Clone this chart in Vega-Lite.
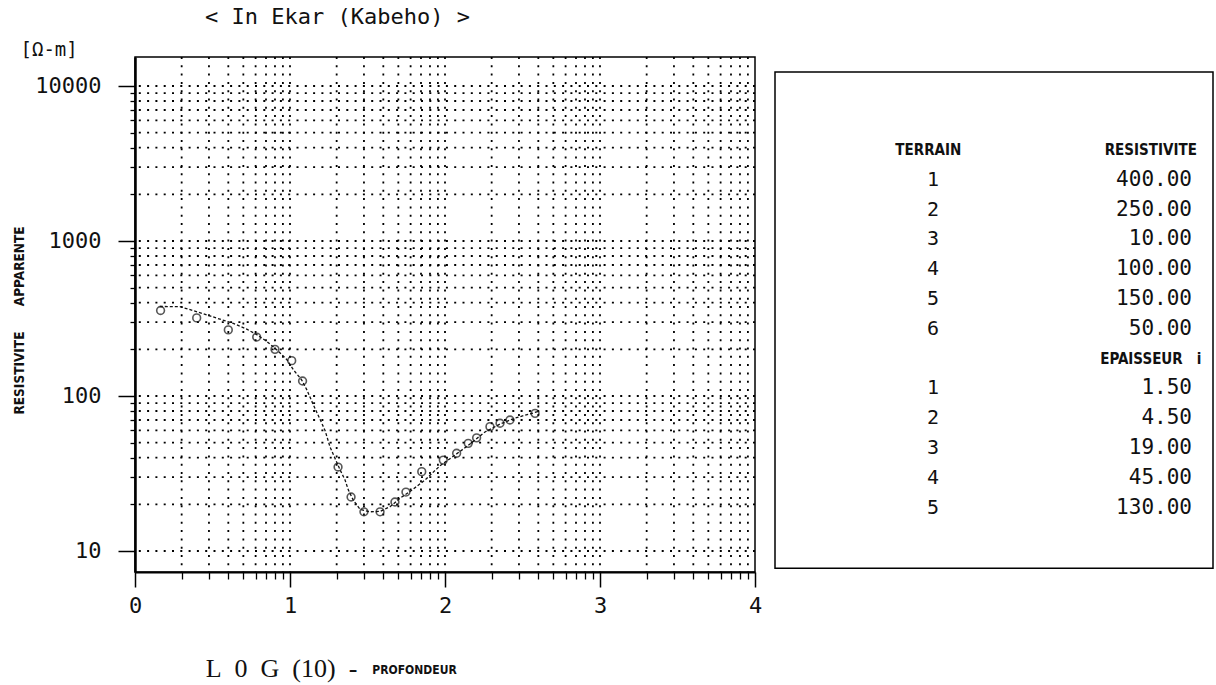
{
  "$schema": "https://vega.github.io/schema/vega-lite/v6.json",
  "autosize": {"type": "none"},
  "padding": {"left": 135, "top": 57, "right": 1081, "bottom": 628},
  "background": "white",
  "title": {"text": "< In Ekar (Kabeho) >", "anchor": "start", "frame": "group", "dx": 70, "font": "DejaVu Sans Mono", "fontSize": 22, "fontWeight": "normal", "color": "#111", "offset": 10},
  "datasets": {
    "vgrid": [{"x":0.30103},{"x":0.47712},{"x":0.60206},{"x":0.69897},{"x":0.77815},{"x":0.8451},{"x":0.90309},{"x":0.95424},{"x":1},
      {"x":1.30103},{"x":1.47712},{"x":1.60206},{"x":1.69897},{"x":1.77815},{"x":1.8451},{"x":1.90309},{"x":1.95424},{"x":2},
      {"x":2.30103},{"x":2.47712},{"x":2.60206},{"x":2.69897},{"x":2.77815},{"x":2.8451},{"x":2.90309},{"x":2.95424},{"x":3},
      {"x":3.30103},{"x":3.47712},{"x":3.60206},{"x":3.69897},{"x":3.77815},{"x":3.8451},{"x":3.90309},{"x":3.95424}],
    "hgrid": [{"y":10},{"y":20},{"y":30},{"y":40},{"y":50},{"y":60},{"y":70},{"y":80},{"y":90},
      {"y":100},{"y":200},{"y":300},{"y":400},{"y":500},{"y":600},{"y":700},{"y":800},{"y":900},
      {"y":1000},{"y":2000},{"y":3000},{"y":4000},{"y":5000},{"y":6000},{"y":7000},{"y":8000},{"y":9000},{"y":10000}],
    "curve": [{"x":0.16,"y":378},{"x":0.29,"y":377},{"x":0.374,"y":356},{"x":0.463,"y":334},{"x":0.548,"y":313},{"x":0.634,"y":294},{"x":0.721,"y":270},{"x":0.785,"y":249},{"x":0.85,"y":225},{"x":0.914,"y":199},{"x":0.979,"y":172},{"x":1.021,"y":148},{"x":1.075,"y":127},{"x":1.108,"y":110},{"x":1.15,"y":88},{"x":1.19,"y":72},{"x":1.226,"y":60},{"x":1.258,"y":47},{"x":1.29,"y":39.7},{"x":1.323,"y":33.4},{"x":1.355,"y":28.7},{"x":1.376,"y":24.8},{"x":1.408,"y":21.3},{"x":1.452,"y":18.6},{"x":1.516,"y":17.9},{"x":1.581,"y":18.0},{"x":1.645,"y":19.3},{"x":1.71,"y":21.9},{"x":1.774,"y":24.2},{"x":1.871,"y":28.7},{"x":1.968,"y":35.5},{"x":2.065,"y":41.6},{"x":2.161,"y":49},{"x":2.258,"y":58.6},{"x":2.355,"y":65.9},{"x":2.452,"y":72.1},{"x":2.6,"y":79.3}],
    "points": [{"x":0.165,"y":356},{"x":0.398,"y":319},{"x":0.602,"y":267},{"x":0.785,"y":240},{"x":0.903,"y":200},{"x":1.011,"y":169},{"x":1.081,"y":125},{"x":1.31,"y":34.8},{"x":1.394,"y":22.3},{"x":1.477,"y":17.9},{"x":1.581,"y":17.9},{"x":1.677,"y":20.7},{"x":1.748,"y":24.0},{"x":1.85,"y":32.5},{"x":1.989,"y":38.6},{"x":2.075,"y":42.7},{"x":2.15,"y":49.5},{"x":2.204,"y":53.7},{"x":2.29,"y":63.4},{"x":2.355,"y":66.7},{"x":2.419,"y":70},{"x":2.581,"y":77.3}],
    "table": [
      {"row":0,"col":"c1","kind":"header","text":"TERRAIN"},
      {"row":0,"col":"c2","kind":"header","text":"RESISTIVITE"},
      {"row":1,"col":"c1","kind":"cell","text":"1"},{"row":1,"col":"c2","kind":"cell","text":"400.00"},
      {"row":2,"col":"c1","kind":"cell","text":"2"},{"row":2,"col":"c2","kind":"cell","text":"250.00"},
      {"row":3,"col":"c1","kind":"cell","text":"3"},{"row":3,"col":"c2","kind":"cell","text":"10.00"},
      {"row":4,"col":"c1","kind":"cell","text":"4"},{"row":4,"col":"c2","kind":"cell","text":"100.00"},
      {"row":5,"col":"c1","kind":"cell","text":"5"},{"row":5,"col":"c2","kind":"cell","text":"150.00"},
      {"row":6,"col":"c1","kind":"cell","text":"6"},{"row":6,"col":"c2","kind":"cell","text":"50.00"},
      {"row":7,"col":"c2","kind":"header","text":"EPAISSEUR\u00a0\u00a0\u00a0i"},
      {"row":8,"col":"c1","kind":"cell","text":"1"},{"row":8,"col":"c2","kind":"cell","text":"1.50"},
      {"row":9,"col":"c1","kind":"cell","text":"2"},{"row":9,"col":"c2","kind":"cell","text":"4.50"},
      {"row":10,"col":"c1","kind":"cell","text":"3"},{"row":10,"col":"c2","kind":"cell","text":"19.00"},
      {"row":11,"col":"c1","kind":"cell","text":"4"},{"row":11,"col":"c2","kind":"cell","text":"45.00"},
      {"row":12,"col":"c1","kind":"cell","text":"5"},{"row":12,"col":"c2","kind":"cell","text":"130.00"}
    ]
  },
  "spacing": 20,
  "bounds": "flush",
  "hconcat": [
    {
      "width": 620,
      "height": 515,
      "view": {"stroke": "#000", "strokeWidth": 1.5},
      "resolve": {"axis": {"x": "independent", "y": "independent"}},
      "layer": [
        {
          "data": {"name": "vgrid"},
          "mark": {"type": "rule", "stroke": "#000", "strokeWidth": 1.8, "strokeDash": [2, 6.3]},
          "encoding": {
            "x": {"field": "x", "type": "quantitative",
              "scale": {"domain": [0, 4], "nice": false, "zero": false},
              "axis": {"orient": "bottom", "values": [0, 1, 2, 3, 4], "format": "d", "tickSize": 15, "tickWidth": 1.5, "domainWidth": 2,
                "labelFont": "DejaVu Sans Mono", "labelFontSize": 22, "labelPadding": 8, "labelFlush": false, "labelOverlap": false,
                "title": "L\u00a0\u00a00\u00a0\u00a0G\u00a0\u00a0(10)\u00a0\u00a0-", "titleFont": "Liberation Serif", "titleFontSize": 26, "titleFontWeight": "normal",
                "titleX": 146, "titleY": 96, "titleAlign": "center", "titleBaseline": "middle"}}
          }
        },
        {
          "data": {"name": "hgrid"},
          "mark": {"type": "rule", "stroke": "#000", "strokeWidth": 1.8, "strokeDash": [2, 6.3]},
          "encoding": {
            "y": {"field": "y", "type": "quantitative",
              "scale": {"type": "log", "domain": [7.32, 15380], "nice": false},
              "axis": {"orient": "left", "values": [10, 100, 1000, 10000], "format": "d", "tickSize": 17, "tickWidth": 1.5, "domainWidth": 2.5,
                "labelFont": "DejaVu Sans Mono", "labelFontSize": 22, "labelPadding": 17, "labelFlush": false, "labelOverlap": false,
                "title": "[Ω-m]", "titleFont": "DejaVu Sans Mono", "titleFontSize": 19, "titleFontWeight": "normal",
                "titleAngle": 0, "titleX": -115, "titleY": -8, "titleAlign": "left", "titleBaseline": "middle"}}
          }
        },
        {
          "data": {"name": "curve"},
          "mark": {"type": "line", "stroke": "#111", "strokeWidth": 1.3, "strokeDash": [3, 2]},
          "encoding": {
            "x": {"field": "x", "type": "quantitative", "scale": {"domain": [0, 4], "nice": false, "zero": false},
              "axis": {"orient": "bottom", "values": [0.30103,0.47712,0.60206,0.69897,0.77815,0.8451,0.90309,0.95424,1.30103,1.47712,1.60206,1.69897,1.77815,1.8451,1.90309,1.95424,2.30103,2.47712,2.60206,2.69897,2.77815,2.8451,2.90309,2.95424,3.30103,3.47712,3.60206,3.69897,3.77815,3.8451,3.90309,3.95424],
                "labels": false, "domain": false, "tickSize": 7, "tickWidth": 1.3, "title": null}},
            "y": {"field": "y", "type": "quantitative", "scale": {"type": "log", "domain": [7.32, 15380], "nice": false},
              "axis": {"orient": "left", "values": [20,30,40,50,60,70,80,90,200,300,400,500,600,700,800,900,2000,3000,4000,5000,6000,7000,8000,9000],
                "labels": false, "domain": false, "tickSize": 5, "tickWidth": 1.3, "title": null}},
            "order": {"field": "x", "type": "quantitative"}
          }
        },
        {
          "data": {"name": "points"},
          "mark": {"type": "point", "shape": "circle", "filled": false, "stroke": "#111", "strokeWidth": 1.6, "size": 60},
          "encoding": {
            "x": {"field": "x", "type": "quantitative", "scale": {"domain": [0, 4], "nice": false, "zero": false},
              "axis": {"orient": "bottom", "labels": false, "ticks": false, "domain": false,
                "title": "PROFONDEUR", "titleFont": "Liberation Sans Narrow, DejaVu Sans Condensed, sans-serif", "titleFontSize": 12, "titleFontWeight": "bold",
                "titleX": 279, "titleY": 97, "titleAlign": "center", "titleBaseline": "middle"}},
            "y": {"field": "y", "type": "quantitative", "scale": {"type": "log", "domain": [7.32, 15380], "nice": false},
              "axis": {"orient": "left", "labels": false, "ticks": false, "domain": false,
                "title": "RESISTIVITE\u00a0\u00a0\u00a0\u00a0\u00a0\u00a0APPARENTE", "titleFont": "Liberation Sans Narrow, DejaVu Sans Condensed, sans-serif", "titleFontSize": 13.5, "titleFontWeight": "bold",
                "titleAngle": 270, "titleX": -116, "titleY": 263, "titleAlign": "center", "titleBaseline": "middle"}}
          }
        }
      ]
    },
    {
      "width": 438,
      "height": 515,
      "data": {"name": "table"},
      "layer": [
        {
          "data": {"values": [{}]},
          "mark": {"type": "rect", "fillOpacity": 0, "stroke": "#000", "strokeWidth": 1.5},
          "encoding": {
            "x": {"datum": 0, "type": "quantitative", "scale": {"domain": [0, 100], "nice": false, "zero": false}, "axis": null},
            "x2": {"datum": 100},
            "y": {"datum": -2.62, "type": "quantitative", "scale": {"domain": [-3.12, 14.16], "reverse": true, "nice": false, "zero": false}, "axis": null},
            "y2": {"datum": 14.03}
          }
        },
        {
          "transform": [{"filter": "datum.kind === 'header' && datum.col === 'c1'"}],
          "mark": {"type": "text", "font": "Liberation Sans Narrow, DejaVu Sans Condensed, sans-serif", "fontWeight": "bold", "fontSize": 15, "align": "center", "baseline": "middle", "color": "#111"},
          "encoding": {
            "x": {"datum": 35, "type": "quantitative"},
            "y": {"field": "row", "type": "quantitative"},
            "text": {"field": "text"}
          }
        },
        {
          "transform": [{"filter": "datum.kind === 'header' && datum.col === 'c2'"}],
          "mark": {"type": "text", "font": "Liberation Sans Narrow, DejaVu Sans Condensed, sans-serif", "fontWeight": "bold", "fontSize": 15, "align": "center", "baseline": "middle", "color": "#111"},
          "encoding": {
            "x": {"datum": 85.8, "type": "quantitative"},
            "y": {"field": "row", "type": "quantitative"},
            "text": {"field": "text"}
          }
        },
        {
          "transform": [{"filter": "datum.kind === 'cell' && datum.col === 'c1'"}],
          "mark": {"type": "text", "font": "DejaVu Sans Mono", "fontSize": 20, "align": "center", "baseline": "middle", "color": "#111"},
          "encoding": {
            "x": {"datum": 36.1, "type": "quantitative"},
            "y": {"field": "row", "type": "quantitative"},
            "text": {"field": "text"}
          }
        },
        {
          "transform": [{"filter": "datum.kind === 'cell' && datum.col === 'c2'"}],
          "mark": {"type": "text", "font": "DejaVu Sans Mono", "fontSize": 21, "align": "right", "baseline": "middle", "color": "#111"},
          "encoding": {
            "x": {"datum": 95.2, "type": "quantitative"},
            "y": {"field": "row", "type": "quantitative"},
            "text": {"field": "text"}
          }
        }
      ]
    }
  ],
  "config": {
    "view": {"stroke": null},
    "axis": {"grid": false, "labelColor": "#111", "tickColor": "#000", "domainColor": "#000", "titleColor": "#111"},
    "font": "DejaVu Sans Mono"
  }
}
